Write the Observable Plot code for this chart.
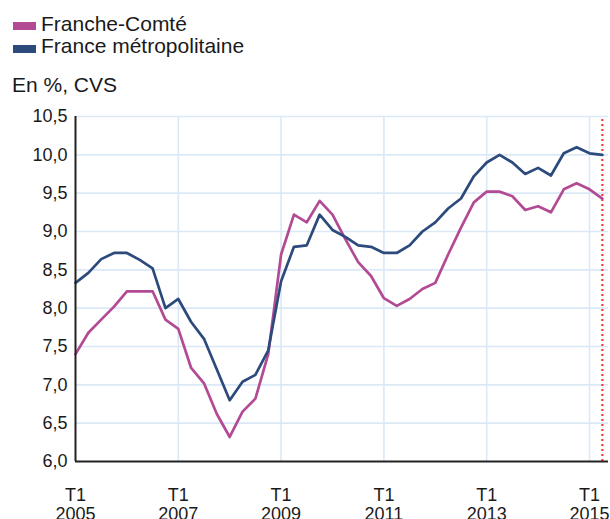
<!DOCTYPE html>
<html><head><meta charset="utf-8">
<script src="https://cdn.jsdelivr.net/npm/d3@7"></script>
<script src="https://cdn.jsdelivr.net/npm/@observablehq/plot@0.6"></script>
<style>
body{margin:0;background:#fff;font-family:"Liberation Sans",Arial,sans-serif;color:#1a1a1a;}
#head{position:relative;height:100px;width:610px;}
.sw{position:absolute;left:13px;width:23px;height:8px;}
.lt{position:absolute;left:41px;font-size:21px;line-height:24px;white-space:nowrap;}
#unit{position:absolute;left:12px;top:73px;font-size:21px;line-height:24px;}
#chart svg{display:block;}
</style></head><body>
<div id="head">
  <div class="sw" style="top:22px;background:#b24a94"></div><div class="lt" style="top:12px">Franche-Comté</div>
  <div class="sw" style="top:45px;background:#2c4a7c"></div><div class="lt" style="top:34px">France métropolitaine</div>
  <div id="unit">En %, CVS</div>
</div>
<div id="chart"></div>
<script>
const periods = [
  "2005 T1","2005 T2","2005 T3","2005 T4","2006 T1","2006 T2","2006 T3","2006 T4",
  "2007 T1","2007 T2","2007 T3","2007 T4","2008 T1","2008 T2","2008 T3","2008 T4",
  "2009 T1","2009 T2","2009 T3","2009 T4","2010 T1","2010 T2","2010 T3","2010 T4",
  "2011 T1","2011 T2","2011 T3","2011 T4","2012 T1","2012 T2","2012 T3","2012 T4",
  "2013 T1","2013 T2","2013 T3","2013 T4","2014 T1","2014 T2","2014 T3","2014 T4",
  "2015 T1","2015 T2"
];
const francheComte = [7.40,7.68,7.85,8.02,8.22,8.22,8.22,7.85,7.73,7.22,7.02,6.62,6.32,6.65,6.82,7.40,8.70,9.22,9.12,9.40,9.22,8.90,8.60,8.42,8.13,8.03,8.12,8.25,8.33,8.70,9.05,9.38,9.52,9.52,9.46,9.28,9.33,9.25,9.55,9.63,9.55,9.43];
const franceMetro = [8.33,8.46,8.64,8.72,8.72,8.63,8.52,8.00,8.12,7.82,7.60,7.20,6.80,7.04,7.13,7.45,8.35,8.80,8.82,9.22,9.02,8.93,8.82,8.80,8.72,8.72,8.82,9.00,9.12,9.30,9.43,9.72,9.90,10.00,9.90,9.75,9.83,9.73,10.02,10.10,10.02,10.00];
const xTickYears = [2005,2007,2009,2011,2013,2015];
const yTicks = [6.0,6.5,7.0,7.5,8.0,8.5,9.0,9.5,10.0,10.5];
const markerPeriod = "2015 T2";

const toX = p => { const [y, q] = p.split(" T"); return +y + (+q - 1) / 4; };
const rows = [];
periods.forEach((p, i) => {
  rows.push({x: toX(p), v: francheComte[i], s: "Franche-Comté"});
  rows.push({x: toX(p), v: franceMetro[i], s: "France métropolitaine"});
});
const fmt = d => d.toFixed(1).replace(".", ",");
const gridCol = "#dbe8f6";

const chart = Plot.plot({
  width: 610, height: 419,
  marginLeft: 75, marginRight: 2, marginTop: 16, marginBottom: 58,
  style: {fontFamily: '"Liberation Sans", Arial, sans-serif', fontSize: "18px", color: "#1a1a1a", background: "#fff"},
  x: {domain: [2005, 2015.37]},
  y: {domain: [6, 10.5]},
  color: {domain: ["Franche-Comté", "France métropolitaine"], range: ["#b24a94", "#2c4a7c"]},
  marks: [
    Plot.ruleY(yTicks.filter(d => d > 6), {y: d => d, stroke: gridCol, strokeWidth: 1.6}),
    Plot.ruleX(xTickYears.filter(d => d > 2005), {x: d => d, y1: 6, y2: 10.5, stroke: gridCol, strokeWidth: 1.6}),
    Plot.axisY({ticks: yTicks, tickFormat: fmt, tickSize: 0, tickPadding: 8, label: null, fontSize: 18}),
    Plot.axisX({ticks: xTickYears, tickFormat: d => `T1\n${d}`, tickSize: 0, tickPadding: 25, label: null, fontSize: 18, lineHeight: 1.1}),
    Plot.ruleX([toX(markerPeriod)], {y1: 6, y2: 10.5, stroke: "#ff2a2a", strokeWidth: 2, strokeDasharray: "2,3"}),
    Plot.line(rows, {x: "x", y: "v", z: "s", stroke: "s", strokeWidth: 2.7, strokeLinejoin: "round"}),
    Plot.ruleX([2005], {y1: 6, y2: 10.5, stroke: "#222", strokeWidth: 2}),
    Plot.ruleY([6], {x1: 2005, x2: 2015.37, stroke: "#222", strokeWidth: 2})
  ]
});
document.getElementById("chart").append(chart);
</script>
</body></html>
